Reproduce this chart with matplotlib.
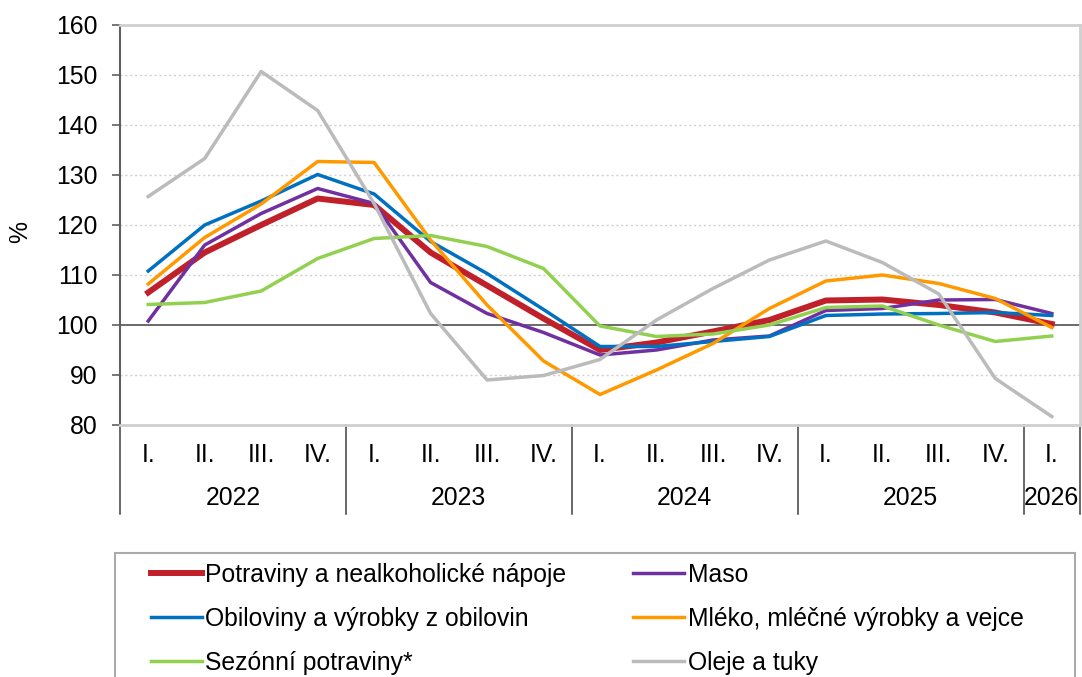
import matplotlib
matplotlib.use("Agg")
import matplotlib.pyplot as plt
from matplotlib.lines import Line2D
from matplotlib.patches import Rectangle

plt.rcParams['font.family'] = ['Liberation Sans', 'DejaVu Sans']

quarters = ["I.", "II.", "III.", "IV."] * 4 + ["I."]
years = ["2022", "2023", "2024", "2025", "2026"]
year_len = [4, 4, 4, 4, 1]

potraviny = [106.5, 114.5, 120.0, 125.3, 124.0, 114.5, 107.9, 101.3, 95.0, 96.5, 98.7, 101.0, 104.9, 105.1, 104.0, 102.5, 100.2]
maso = [100.8, 116.0, 122.3, 127.3, 124.3, 108.5, 102.3, 98.5, 94.0, 95.0, 97.0, 97.8, 102.9, 103.3, 105.0, 105.1, 102.3]
obiloviny = [110.8, 120.0, 124.8, 130.1, 126.2, 116.7, 110.3, 103.1, 95.7, 95.7, 96.7, 97.7, 101.9, 102.2, 102.3, 102.5, 101.9]
mleko = [108.2, 117.5, 124.2, 132.7, 132.5, 117.0, 104.0, 92.8, 86.1, 91.0, 96.3, 103.3, 108.8, 110.0, 108.3, 105.3, 99.5]
sezonni = [104.1, 104.5, 106.8, 113.3, 117.3, 117.9, 115.7, 111.3, 99.8, 97.7, 98.2, 100.0, 103.5, 103.8, 100.0, 96.7, 97.8]
oleje = [125.7, 133.3, 150.7, 142.9, 124.3, 102.3, 89.0, 89.9, 93.1, 101.0, 107.3, 113.0, 116.8, 112.5, 106.2, 89.3, 81.7]

series = [
    ("Potraviny a nealkoholické nápoje", potraviny, "#C0202A", 4.3),
    ("Maso", maso, "#7030A0", 2.5),
    ("Obiloviny a výrobky z obilovin", obiloviny, "#0070C0", 2.5),
    ("Mléko, mléčné výrobky a vejce", mleko, "#FF9900", 2.5),
    ("Sezónní potraviny*", sezonni, "#92D050", 2.5),
    ("Oleje a tuky", oleje, "#BBBBBB", 2.5),
]

FS = 17.8

fig = plt.figure(figsize=(10.82, 6.77), dpi=100)
ax = fig.add_axes([120/1082, 1-425/677, 960/1082, 400/677])

x = list(range(len(quarters)))
handles = {}
for name, vals, col, lw in series:
    ax.plot(x, vals, color=col, lw=lw, zorder=3)
    handles[name] = Line2D([], [], color=col, lw=lw)

ax.set_xlim(-0.5, 16.5)
ax.set_ylim(80, 160)
ax.set_yticks(range(80, 161, 10))
for v in [90, 110, 120, 130, 140, 150]:
    ax.axhline(v, color="#D0D0D0", lw=1, ls=(0, (1.5, 2)), zorder=1)
ax.axhline(100, color="#505050", lw=1.2, zorder=2)

ax.set_xticks([])
ax.tick_params(axis='y', direction='out', length=6, width=1.2, color="#606060",
               labelsize=FS, pad=10)
ax.spines['left'].set_color("#606060")
ax.spines['left'].set_linewidth(1.5)
for s in ['top', 'bottom', 'right']:
    ax.spines[s].set_color("#CFCFCF")
    ax.spines[s].set_linewidth(2)

# two-level category axis
trans = ax.get_xaxis_transform()
for i, q in enumerate(quarters):
    ax.text(i, -0.075, q, transform=trans, ha='center', va='center', fontsize=FS)
start = 0
bounds = [-0.5]
for yr, n in zip(years, year_len):
    ax.text(start + (n - 1) / 2, -0.183, yr, transform=trans, ha='center',
            va='center', fontsize=FS)
    start += n
    bounds.append(start - 0.5)
for b in bounds:
    ax.plot([b, b], [0, -0.222], transform=trans, color="#404040", lw=1.1,
            clip_on=False)

fig.text(20/1082, 1-232/677, "%", rotation=90, ha='center', va='center', fontsize=FS)

# legend with a frame drawn separately so it can span the full width
order = ["Potraviny a nealkoholické nápoje", "Obiloviny a výrobky z obilovin",
         "Sezónní potraviny*", "Maso", "Mléko, mléčné výrobky a vejce", "Oleje a tuky"]
fig.legend([handles[n] for n in order], order, ncol=2, loc='upper left',
           bbox_to_anchor=(151/1082, 1-563/677), fontsize=FS, frameon=False,
           handlelength=2.05, handletextpad=0.15, columnspacing=2.7,
           borderpad=0, labelspacing=0.8, borderaxespad=0)
fig.patches.append(Rectangle((115/1082, -0.05), 960/1082, 0.05 + (677-553)/677,
                             transform=fig.transFigure, fill=False,
                             edgecolor="#AAAAAA", lw=1.5))

fig.savefig("out.png", dpi=100)
